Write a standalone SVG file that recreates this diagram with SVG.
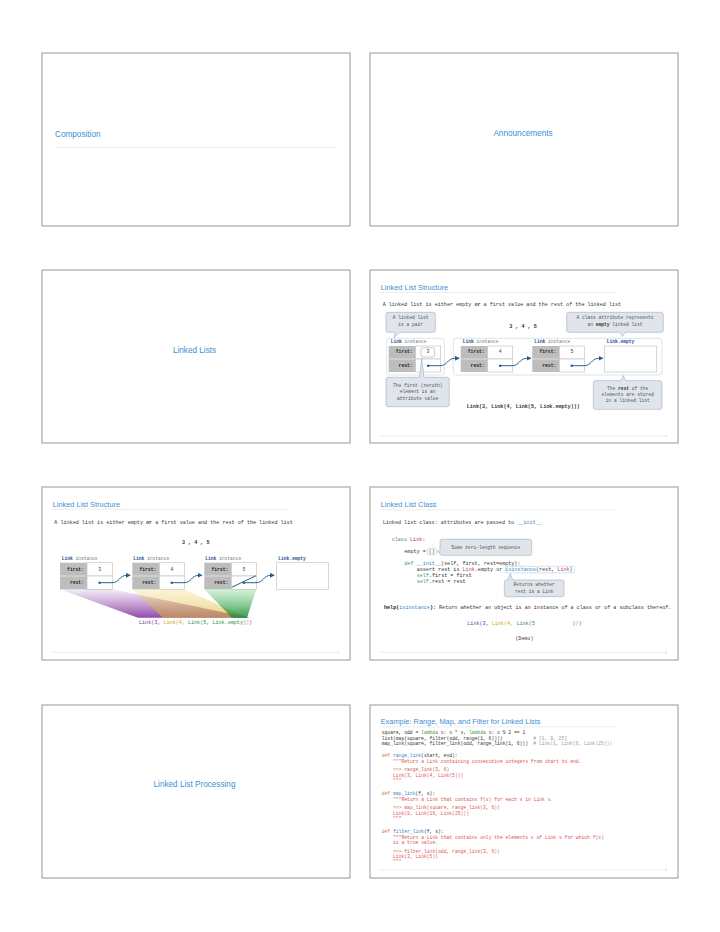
<svg xmlns="http://www.w3.org/2000/svg" width="720" height="932" viewBox="0 0 720 932">
<style>
.frame{fill:#fff;stroke:#a9a9a9;stroke-width:1.2}
.ttl{font-family:"Liberation Sans",Arial,sans-serif;fill:#3b8fd4}
.sec{font-size:8.2px}
.hd{font-size:7.4px}
.rule{stroke:#e8e8e8;stroke-width:0.8}
.mono{font-family:"Liberation Mono","DejaVu Sans Mono",monospace}
.t5{font-size:5.1px;fill:#333}
.c47{font-size:4.7px;fill:#333}
.b{font-weight:bold}
.cg{fill:#bdbdbd}
.cw{fill:#fff;stroke:#bdbdbd;stroke-width:0.6}
.ct{font-size:4.7px;font-weight:bold;fill:#222;text-anchor:end}
.cv{font-size:4.7px;fill:#333;text-anchor:middle}
.lk{font-size:4.6px;fill:#777}
.lkb{font-weight:bold;fill:#1f4e8c}
.bub{fill:#dfe5eb;stroke:#a3adb8;stroke-width:0.6}
.bt{font-size:4.6px;fill:#555;text-anchor:middle}
.arr{fill:none;stroke:#2c5f8e;stroke-width:1}
.dot{fill:#2c5f8e}
.fr{fill:none;stroke:#cfdeec;stroke-width:0.8}
.pn{font-family:"Liberation Sans",Arial,sans-serif;font-size:3px;fill:#c8c8c8;text-anchor:end}
.pu{fill:#7b3294}.ye{fill:#c9a400}.gr{fill:#2e8b3e}
.kw{fill:#3f9a5c}.pk{fill:#c0307a}.bl{fill:#2f86c8}
.df{fill:#e07b39}.fn{fill:#2f86c8}.ds{fill:#d9534f}.cm{fill:#9a9a9a}.lam{fill:#3f9a3f}
</style>
<defs>
<marker id="ah" viewBox="0 0 6 6" refX="5" refY="3" markerWidth="5" markerHeight="5" markerUnits="userSpaceOnUse" orient="auto">
<path d="M0,0 L6,3 L0,6 z" fill="#2c5f8e"/>
</marker>
<linearGradient id="gp" x1="0" y1="0" x2="0" y2="1">
<stop offset="0" stop-color="#9b59b6" stop-opacity="0.12"/>
<stop offset="1" stop-color="#7b2a9a" stop-opacity="0.85"/>
</linearGradient>
<linearGradient id="gy" x1="0" y1="0" x2="0" y2="1">
<stop offset="0" stop-color="#f1d36b" stop-opacity="0.25"/>
<stop offset="1" stop-color="#d9b230" stop-opacity="0.6"/>
</linearGradient>
<linearGradient id="gg" x1="0" y1="0" x2="0" y2="1">
<stop offset="0" stop-color="#6fcf7f" stop-opacity="0.3"/>
<stop offset="1" stop-color="#1f8a3a" stop-opacity="0.9"/>
</linearGradient>
</defs>
<rect width="720" height="932" fill="#fff"/>

<g id="slide-composition">
<rect class="frame" x="42" y="53" width="308" height="173"/>
<text class="ttl sec" x="55" y="136.7">Composition</text>
<line class="rule" x1="55.7" y1="147.3" x2="336" y2="147.3"/>
</g>

<g id="slide-announcements">
<rect class="frame" x="370" y="53" width="308" height="173"/>
<text class="ttl sec" x="523" y="136" text-anchor="middle">Announcements</text>
</g>

<g id="slide-linked-lists">
<rect class="frame" x="42" y="270" width="308" height="173"/>
<text class="ttl sec" x="194.5" y="352.7" text-anchor="middle">Linked Lists</text>
</g>

<g id="slide-structure-1">
<rect class="frame" x="370" y="270" width="308" height="173"/>
<text class="ttl hd" x="380.7" y="290">Linked List Structure</text>
<line class="rule" x1="380" y1="292.5" x2="616.7" y2="292.5"/>
<text class="mono t5" x="382.7" y="306">A linked list is either empty <tspan class="b">or</tspan> a first value and the rest of the linked list</text>
<path class="bub" d="M388 312.3H433.3A2 2 0 0 1 435.3 314.3V330.3A2 2 0 0 1 433.3 332.3H400L394 337.5L395 332.3H388A2 2 0 0 1 386 330.3V314.3A2 2 0 0 1 388 312.3Z"/>
<text class="mono bt" x="410.7" y="319.3">A linked list</text>
<text class="mono bt" x="410.7" y="326.3">is a pair</text>
<text class="mono t5 b" x="523" y="327.7" text-anchor="middle">3 , 4 , 5</text>
<path class="bub" d="M568.7 312.3H661.3A2 2 0 0 1 663.3 314.3V330.3A2 2 0 0 1 661.3 332.3H625L622.5 336.5L620 332.3H568.7A2 2 0 0 1 566.7 330.3V314.3A2 2 0 0 1 568.7 312.3Z"/>
<text class="mono bt" x="615" y="319.3">A class attribute represents</text>
<text class="mono bt" x="615" y="326.3">an <tspan class="b" fill="#333">empty</tspan> linked list</text>
<rect class="fr" x="386.7" y="338.3" width="57.6" height="36.7" rx="3"/>
<rect class="fr" x="453.3" y="338.3" width="208.7" height="36.7" rx="3"/>
<text class="mono lk" x="390.7" y="343"><tspan class="lkb">Link</tspan> instance</text>
<text class="mono lk" x="462.7" y="343"><tspan class="lkb">Link</tspan> instance</text>
<text class="mono lk" x="534.3" y="343"><tspan class="lkb">Link</tspan> instance</text>
<text class="mono lk lkb" x="606.7" y="343">Link.empty</text>
<g id="s4-link1">
<rect class="cg" x="388.7" y="346" width="27" height="26"/>
<line x1="388.7" y1="359" x2="415.7" y2="359" stroke="#e8e8e8" stroke-width="0.8"/>
<rect class="cw" x="415.7" y="346" width="25" height="13"/>
<rect class="cw" x="415.7" y="359" width="25" height="13"/>
<rect x="421" y="347.8" width="13.7" height="9.2" rx="2" fill="#fff" stroke="#a9a9a9" stroke-width="0.6"/>
<text class="mono ct" x="412.7" y="353.3">first:</text>
<text class="mono ct" x="412.7" y="366.7">rest:</text>
<text class="mono cv" x="427.8" y="353.3">3</text>
</g>
<g id="s4-link2">
<rect class="cg" x="460.7" y="346" width="27" height="26"/>
<line x1="460.7" y1="359" x2="487.7" y2="359" stroke="#e8e8e8" stroke-width="0.8"/>
<rect class="cw" x="487.7" y="346" width="25" height="13"/>
<rect class="cw" x="487.7" y="359" width="25" height="13"/>
<text class="mono ct" x="484.7" y="353.3">first:</text>
<text class="mono ct" x="484.7" y="366.7">rest:</text>
<text class="mono cv" x="500.2" y="353.3">4</text>
</g>
<g id="s4-link3">
<rect class="cg" x="532.3" y="346" width="27" height="26"/>
<line x1="532.3" y1="359" x2="559.3" y2="359" stroke="#e8e8e8" stroke-width="0.8"/>
<rect class="cw" x="559.3" y="346" width="25" height="13"/>
<rect class="cw" x="559.3" y="359" width="25" height="13"/>
<text class="mono ct" x="556.3" y="353.3">first:</text>
<text class="mono ct" x="556.3" y="366.7">rest:</text>
<text class="mono cv" x="571.8" y="353.3">5</text>
</g>
<g id="s4-empty">
<rect class="cw" x="604.3" y="346" width="52.4" height="26"/>
</g>
<path class="bub" d="M388 377.3H419.5L421.7 358.5L424 377.3H447.3A2 2 0 0 1 449.3 379.3V404.7A2 2 0 0 1 447.3 406.7H388A2 2 0 0 1 386 404.7V379.3A2 2 0 0 1 388 377.3Z"/>
<text class="mono bt" x="417.7" y="386.7">The first (zeroth)</text>
<text class="mono bt" x="417.7" y="393.3">element is an</text>
<text class="mono bt" x="417.7" y="399.7">attribute value</text>
<path class="bub" d="M595.3 380.7H621L623.3 375.5L625.6 380.7H660A2 2 0 0 1 662 382.7V407.3A2 2 0 0 1 660 409.3H595.3A2 2 0 0 1 593.3 407.3V382.7A2 2 0 0 1 595.3 380.7Z"/>
<text class="mono bt" x="627.7" y="390">The <tspan class="b" fill="#333">rest</tspan> of the</text>
<text class="mono bt" x="627.7" y="395.7">elements are stored</text>
<text class="mono bt" x="627.7" y="402">in a linked list</text>
<text class="mono t5 b" x="523.3" y="408.3" text-anchor="middle" fill="#222">Link(3, Link(4, Link(5, Link.empty)))</text>
<line class="rule" x1="380" y1="436" x2="666" y2="436"/>
<text class="pn" x="667" y="437">4</text>
</g>

<g id="slide-structure-2">
<rect class="frame" x="42" y="487" width="308" height="173"/>
<text class="ttl hd" x="52.7" y="506.7">Linked List Structure</text>
<line class="rule" x1="52" y1="509.3" x2="287.7" y2="509.3"/>
<text class="mono t5" x="54.3" y="524.3">A linked list is either empty <tspan class="b">or</tspan> a first value and the rest of the linked list</text>
<text class="mono t5 b" x="195.7" y="544.3" text-anchor="middle">3 , 4 , 5</text>
<text class="mono lk" x="61.7" y="560"><tspan class="lkb">Link</tspan> instance</text>
<text class="mono lk" x="133.3" y="560"><tspan class="lkb">Link</tspan> instance</text>
<text class="mono lk" x="205.3" y="560"><tspan class="lkb">Link</tspan> instance</text>
<text class="mono lk lkb" x="278.3" y="560">Link.empty</text>
<g id="s5-link1">
<rect class="cg" x="60" y="562.7" width="27" height="26.6"/>
<line x1="60" y1="576" x2="87" y2="576" stroke="#e8e8e8" stroke-width="0.8"/>
<rect class="cw" x="87" y="562.7" width="25.3" height="13.3"/>
<rect class="cw" x="87" y="576" width="25.3" height="13.3"/>
<text class="mono ct" x="84" y="570.7">first:</text>
<text class="mono ct" x="84" y="584">rest:</text>
<text class="mono cv" x="99.7" y="570.7">3</text>
</g>
<g id="s5-link2">
<rect class="cg" x="132.3" y="562.7" width="27" height="26.6"/>
<line x1="132.3" y1="576" x2="159.3" y2="576" stroke="#e8e8e8" stroke-width="0.8"/>
<rect class="cw" x="159.3" y="562.7" width="25" height="13.3"/>
<rect class="cw" x="159.3" y="576" width="25" height="13.3"/>
<text class="mono ct" x="156.3" y="570.7">first:</text>
<text class="mono ct" x="156.3" y="584">rest:</text>
<text class="mono cv" x="171.8" y="570.7">4</text>
</g>
<g id="s5-link3">
<rect class="cg" x="204.3" y="562.7" width="27" height="26.6"/>
<line x1="204.3" y1="576" x2="231.3" y2="576" stroke="#e8e8e8" stroke-width="0.8"/>
<rect class="cw" x="231.3" y="562.7" width="25" height="13.3"/>
<rect class="cw" x="231.3" y="576" width="25" height="13.3"/>
<text class="mono ct" x="228.3" y="570.7">first:</text>
<text class="mono ct" x="228.3" y="584">rest:</text>
<text class="mono cv" x="243.8" y="570.7">5</text>
</g>
<g id="s5-empty">
<rect class="cw" x="276.7" y="562.7" width="51.6" height="26.6"/>
</g>
<g id="s5-brackets">
<polygon points="60,589.3 112.3,589.3 250,617.8 138,617.8" fill="url(#gp)"/>
<polygon points="132.3,589.3 184.3,589.3 248,617.8 163,617.8" fill="url(#gy)"/>
<polygon points="204.3,589.3 256.3,589.3 247,617.8 232,617.8" fill="url(#gg)"/>
</g>
<text class="mono" font-size="5.1px" x="139" y="624.3"><tspan class="pu">Link(3, </tspan><tspan class="ye">Link(4, </tspan><tspan class="gr">Link(5, Link.empty)</tspan><tspan class="ye">)</tspan><tspan class="pu">)</tspan></text>
<line class="rule" x1="51.7" y1="652.3" x2="338.3" y2="652.3"/>
<text class="pn" x="339" y="653.5">5</text>
</g>

<g id="slide-class">
<rect class="frame" x="370" y="487" width="308" height="173"/>
<text class="ttl hd" x="380.7" y="507.3">Linked List Class</text>
<line class="rule" x1="380" y1="510" x2="616.7" y2="510"/>
<text class="mono t5" x="382.7" y="524.3">Linked list class: attributes are passed to <tspan class="bl">__init__</tspan></text>
<text class="mono t5" x="391.7" y="541"><tspan class="kw">class</tspan> <tspan class="pk">Link</tspan>:</text>
<rect x="427.6" y="548.2" width="8.6" height="6.6" rx="1.5" fill="#fff" stroke="#a9b6c3" stroke-width="0.5"/>
<text class="mono t5" x="404.3" y="552.7">empty = ()</text>
<path class="bub" d="M442 539.3H529.7A2 2 0 0 1 531.7 541.3V553.3A2 2 0 0 1 529.7 555.3H442A2 2 0 0 1 440 553.3V553L437 551.5L440 550V541.3A2 2 0 0 1 442 539.3Z"/>
<text class="mono bt" x="485.8" y="549.3" font-size="4.8px">Some zero-length sequence</text>
<text class="mono t5" x="404.3" y="565.3"><tspan class="kw">def</tspan> <tspan class="bl">__init__</tspan>(self, first, rest=empty):</text>
<rect x="505.2" y="566.3" width="69.4" height="6.6" rx="1.5" fill="#fff" stroke="#9cc3e3" stroke-width="0.5"/>
<text class="mono t5" x="416.7" y="571.2">assert rest is <tspan class="pk">Link</tspan>.empty or <tspan class="bl">isinstance</tspan>(rest, <tspan class="pk">Link</tspan>)</text>
<text class="mono t5" x="416.7" y="576.9"><tspan class="kw">self</tspan>.first = first</text>
<text class="mono t5" x="416.7" y="583"><tspan class="kw">self</tspan>.rest = rest</text>
<path class="bub" d="M506.3 580H508L510.3 573.5L512.6 580H562A2 2 0 0 1 564 582V594.7A2 2 0 0 1 562 596.7H506.3A2 2 0 0 1 504.3 594.7V582A2 2 0 0 1 506.3 580Z"/>
<text class="mono bt" x="534.2" y="586">Returns whether</text>
<text class="mono bt" x="534.2" y="592.5">rest is a Link</text>
<text class="mono t5" x="384" y="609.3"><tspan class="b" fill="#222">help(</tspan><tspan class="bl">isinstance</tspan><tspan class="b" fill="#222">):</tspan> Return whether an object is an instance of a class or of a subclass thereof.</text>
<text class="mono" font-size="5.1px" y="625"><tspan class="pu" x="467.3">Link(3, </tspan><tspan class="ye" x="491.7">Link(4, </tspan><tspan class="gr" x="516.7">Link(5</tspan><tspan class="gr" x="572.3">)</tspan><tspan class="ye">)</tspan><tspan class="pu">)</tspan></text>
<text class="mono t5" x="524.3" y="640.3" text-anchor="middle">(Demo)</text>
<line class="rule" x1="380" y1="652.3" x2="666" y2="652.3"/>
<text class="pn" x="667" y="653.5">6</text>
</g>

<g id="slide-processing">
<rect class="frame" x="42" y="705" width="308" height="173"/>
<text class="ttl sec" x="194.5" y="787" text-anchor="middle">Linked List Processing</text>
</g>

<g id="slide-example">
<rect class="frame" x="370" y="705" width="308" height="173"/>
<text class="ttl hd" x="380.7" y="724.3">Example: Range, Map, and Filter for Linked Lists</text>
<line class="rule" x1="380" y1="726.8" x2="616.7" y2="726.8"/>
<g class="mono c47">
<text x="381.7" y="734">square, odd = <tspan class="lam">lambda</tspan> x: x * x, <tspan class="lam">lambda</tspan> x: x % 2 == 1</text>
<text x="381.7" y="739.5">list(map(square, filter(odd, range(1, 6))))</text>
<text class="cm" x="533.3" y="739.5"># [1, 9, 25]</text>
<text x="381.7" y="745">map_link(square, filter_link(odd, range_link(1, 6)))</text>
<text class="cm" x="533.3" y="745"># Link(1, Link(9, Link(25)))</text>
<text x="381.7" y="757.3"><tspan class="df">def</tspan> <tspan class="fn">range_link</tspan>(start, end):</text>
<text class="ds" x="393" y="762.7">"""Return a Link containing consecutive integers from start to end.</text>
<text class="ds" x="393" y="771">&gt;&gt;&gt; range_link(3, 6)</text>
<text class="ds" x="393" y="776.7">Link(3, Link(4, Link(5)))</text>
<text class="ds" x="393" y="781.7">"""</text>
<text x="381.7" y="795"><tspan class="df">def</tspan> <tspan class="fn">map_link</tspan>(f, s):</text>
<text class="ds" x="393" y="800.7">"""Return a Link that contains f(s) for each s in Link s.</text>
<text class="ds" x="393" y="809">&gt;&gt;&gt; map_link(square, range_link(3, 6))</text>
<text class="ds" x="393" y="814.7">Link(9, Link(16, Link(25)))</text>
<text class="ds" x="393" y="819.7">"""</text>
<text x="381.7" y="833.3"><tspan class="df">def</tspan> <tspan class="fn">filter_link</tspan>(f, s):</text>
<text class="ds" x="393" y="838.7">"""Return a Link that contains only the elements x of Link s for which f(x)</text>
<text class="ds" x="393" y="844.3">is a true value.</text>
<text class="ds" x="393" y="852.7">&gt;&gt;&gt; filter_link(odd, range_link(3, 6))</text>
<text class="ds" x="393" y="858.3">Link(3, Link(5))</text>
<text class="ds" x="393" y="863.3">"""</text>
</g>
<line class="rule" x1="380" y1="870" x2="666" y2="870"/>
<text class="pn" x="667" y="871">8</text>
</g>

<g id="connectors">
<circle class="dot" cx="428.2" cy="365.7" r="1.3"/>
<path class="arr" d="M428.2 365.7H440C448 365.7 447 358.3 455 358.3H459" marker-end="url(#ah)"/>
<circle class="dot" cx="500.2" cy="365.7" r="1.3"/>
<path class="arr" d="M500.2 365.7H512C520 365.7 519 358.3 527 358.3H530.7" marker-end="url(#ah)"/>
<circle class="dot" cx="571.8" cy="365.7" r="1.3"/>
<path class="arr" d="M571.8 365.7H584C592 365.7 591 358.3 599 358.3H602.7" marker-end="url(#ah)"/>
<circle class="dot" cx="99.7" cy="582.7" r="1.3"/>
<path class="arr" d="M99.7 582.7H112C120 582.7 119 575.3 127 575.3H130" marker-end="url(#ah)"/>
<circle class="dot" cx="171.8" cy="582.7" r="1.3"/>
<path class="arr" d="M171.8 582.7H184C192 582.7 191 575.3 199 575.3H201.7" marker-end="url(#ah)"/>
<circle class="dot" cx="243.8" cy="582.7" r="1.3"/>
<path class="arr" d="M243.8 582.7H256C264 582.7 263 575.3 271 575.3H274" marker-end="url(#ah)"/>
<line class="arr" x1="231.7" y1="587.3" x2="256" y2="575.7"/>
</g>
</svg>
